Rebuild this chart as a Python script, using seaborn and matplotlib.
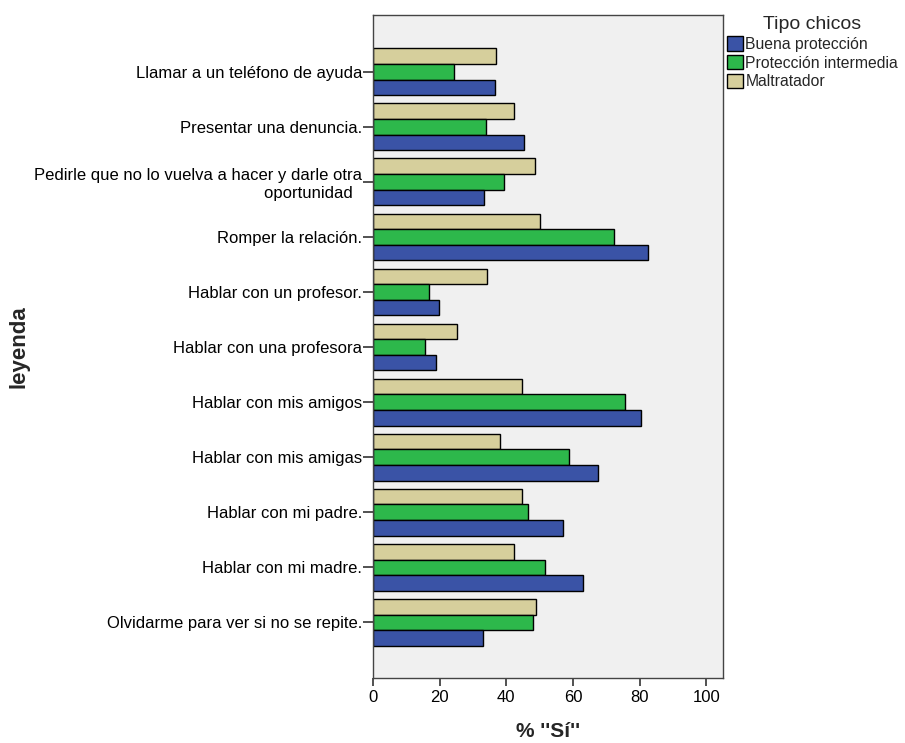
import matplotlib
matplotlib.use("Agg")
import matplotlib.pyplot as plt
import seaborn as sns
import pandas as pd

categories = [
    "Llamar a un teléfono de ayuda",
    "Presentar una denuncia.",
    "Pedirle que no lo vuelva a hacer y darle otra\noportunidad  ",
    "Romper la relación.",
    "Hablar con un profesor.",
    "Hablar con una profesora",
    "Hablar con mis amigos",
    "Hablar con mis amigas",
    "Hablar con mi padre.",
    "Hablar con mi madre.",
    "Olvidarme para ver si no se repite.",
]
buena = [36.5, 45.2, 33.4, 82.4, 19.8, 18.9, 80.3, 67.5, 57.0, 63.0, 32.9]
intermedia = [24.2, 33.8, 39.2, 72.2, 16.9, 15.7, 75.6, 58.9, 46.5, 51.6, 47.9]
maltratador = [36.9, 42.2, 48.7, 50.0, 34.1, 25.1, 44.7, 38.2, 44.7, 42.2, 48.8]
series_names = ["Buena protección", "Protección intermedia", "Maltratador"]
colors = {"Buena protección": "#3A53A6", "Protección intermedia": "#2DB84B", "Maltratador": "#D6CF9C"}

rows = []
for name, vals in zip(series_names, [buena, intermedia, maltratador]):
    for c, v in zip(categories, vals):
        rows.append({"leyenda": c, "pct": v, "Tipo chicos": name})
df = pd.DataFrame(rows)

sns.set_style("ticks")
plt.rcParams['font.family'] = ['Liberation Sans', 'DejaVu Sans']

fig = plt.figure(figsize=(9.05, 7.43), dpi=100)
ax = fig.add_axes([373/905, 1 - 678/743, (723 - 373)/905, (678 - 15)/743])
ax.set_facecolor("#F0F0F0")

hue_order = series_names[::-1]
sns.barplot(data=df, y="leyenda", x="pct", hue="Tipo chicos", order=categories,
            hue_order=hue_order, palette=colors, orient="h", width=0.85,
            edgecolor="black", linewidth=1.0, ax=ax, errorbar=None, saturation=1)

ax.set_xlim(0, 105)
ax.set_ylim(len(categories) - 1 + 1.01, -1.03)
ax.set_xticks([0, 20, 40, 60, 80, 100])
ax.tick_params(axis="x", labelsize=12, length=6, width=1.2, pad=3,
               colors="#333333", labelcolor="black", direction="out")
ax.tick_params(axis="y", labelsize=12, length=7, width=1.2, pad=1,
               colors="#333333", labelcolor="black", direction="out")
for s in ax.spines.values():
    s.set_visible(True)
    s.set_color("#444444")
    s.set_linewidth(1)

ax.set_xlabel('% \'\'Sí\'\'', fontsize=15, fontweight="bold")
ax.xaxis.set_label_coords(0.5, (678 - 722) / 663)
ax.set_ylabel("leyenda", fontsize=16, fontweight="bold")
ax.yaxis.set_label_coords((30 - 373) / 350, 0.5)

handles, labels = ax.get_legend_handles_labels()
order = [labels.index(n) for n in series_names]
leg = ax.legend([handles[i] for i in order], [labels[i] for i in order],
                title="Tipo chicos", loc="upper left",
                bbox_to_anchor=(727/905, 1 - 16/743), bbox_transform=fig.transFigure,
                frameon=False, fontsize=11.3, title_fontsize=14,
                handlelength=1.05, handleheight=1.05, handletextpad=0.12,
                labelspacing=0.2, borderaxespad=0, borderpad=0)
leg._legend_box.align = "center"

fig.savefig("out.png", dpi=100, facecolor="white")
